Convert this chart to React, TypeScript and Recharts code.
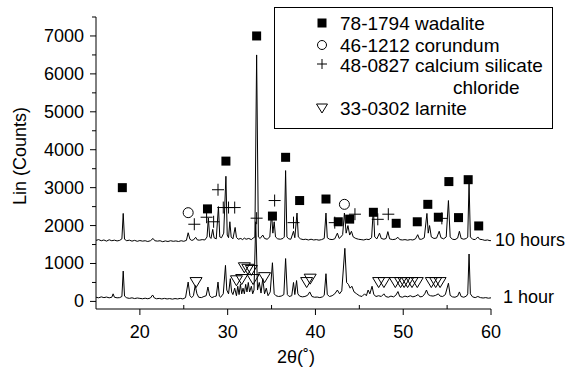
import { ComposedChart, Line, Scatter, XAxis, YAxis } from 'recharts';

// XRD traces, [2θ, counts]
const hours10: [number, number][] = [
  [15.0, 1610], [15.3, 1630], [15.6, 1600], [15.9, 1620], [16.2, 1590], [16.5, 1625], [16.8, 1600],
  [17.1, 1615], [17.4, 1595], [17.7, 1610], [17.95, 1650], [18.1, 2320], [18.25, 1640], [18.5, 1600],
  [18.8, 1615], [19.1, 1590], [19.4, 1610], [19.7, 1585], [20.0, 1605], [20.3, 1590], [20.6, 1600],
  [20.9, 1580], [21.2, 1600], [21.5, 1660], [21.7, 1600], [22.0, 1590], [22.3, 1600], [22.6, 1575],
  [22.9, 1595], [23.2, 1580], [23.5, 1600], [23.8, 1585], [24.1, 1595], [24.4, 1580], [24.7, 1600],
  [25.0, 1585], [25.3, 1610], [25.5, 1810], [25.7, 1640], [25.9, 1610], [26.1, 1620], [26.35, 1690],
  [26.55, 1620], [26.8, 1615], [27.1, 1630], [27.4, 1620], [27.65, 1700], [27.8, 2200], [27.95, 1700],
  [28.1, 1660], [28.3, 1900], [28.45, 1680], [28.7, 1650], [28.95, 2500], [29.1, 1700], [29.3, 1680],
  [29.55, 1800], [29.8, 3300], [29.95, 1750], [30.1, 1680], [30.25, 2100], [30.4, 1700], [30.6, 1650],
  [30.85, 1950], [31.0, 1690], [31.2, 1640], [31.5, 1660], [31.7, 1630], [31.9, 1670], [32.1, 1640],
  [32.4, 1660], [32.7, 1630], [32.9, 1670], [33.1, 1700], [33.3, 6500], [33.5, 1700], [33.7, 1660],
  [34.0, 1750], [34.2, 1660], [34.5, 1640], [34.8, 1700], [35.0, 2330], [35.15, 1800], [35.3, 2100],
  [35.45, 1700], [35.7, 1650], [36.0, 1640], [36.3, 1660], [36.45, 1700], [36.6, 3450], [36.75, 1700],
  [36.95, 1650], [37.2, 1640], [37.5, 1850], [37.65, 1680], [37.9, 2330], [38.05, 1700], [38.3, 1650],
  [38.6, 1630], [38.9, 1640], [39.2, 1620], [39.5, 1640], [39.8, 1620], [40.1, 1630], [40.4, 1615],
  [40.7, 1630], [41.0, 1660], [41.2, 2330], [41.35, 1680], [41.6, 1640], [41.9, 1630], [42.2, 1650],
  [42.5, 1800], [42.7, 1660], [42.9, 1700], [43.1, 1760], [43.3, 2330], [43.5, 1800], [43.7, 2000],
  [43.9, 1750], [44.1, 1850], [44.3, 1700], [44.6, 1660], [44.9, 1640], [45.2, 1630], [45.5, 1620],
  [45.8, 1640], [46.1, 1630], [46.4, 1680], [46.6, 2460], [46.75, 1700], [47.0, 1650], [47.3, 1800],
  [47.5, 1660], [47.8, 1640], [48.05, 1660], [48.25, 1840], [48.45, 1650], [48.8, 1630], [49.1, 1640],
  [49.4, 1690], [49.6, 1630], [49.9, 1620], [50.2, 1630], [50.5, 1615], [50.8, 1630], [51.1, 1620],
  [51.4, 1650], [51.65, 1760], [51.85, 1640], [52.1, 1640], [52.4, 1680], [52.7, 2320], [52.85, 1800],
  [53.0, 2000], [53.2, 1700], [53.5, 1660], [53.8, 1670], [54.1, 1850], [54.3, 1680], [54.6, 1650],
  [54.9, 1700], [55.15, 2660], [55.35, 1700], [55.6, 1640], [55.9, 1630], [56.2, 1670], [56.4, 1850],
  [56.6, 1660], [56.9, 1640], [57.2, 1660], [57.35, 1700], [57.5, 3130], [57.65, 1700], [57.9, 1640],
  [58.2, 1630], [58.5, 1700], [58.7, 1640], [59.0, 1630], [59.3, 1610], [59.6, 1620], [59.9, 1600],
  [60.0, 1610],
];

const hours1: [number, number][] = [
  [15.0, 110], [15.3, 95], [15.6, 120], [15.9, 100], [16.2, 115], [16.5, 95], [16.8, 110], [16.95, 200],
  [17.1, 110], [17.4, 95], [17.7, 100], [17.95, 130], [18.1, 800], [18.25, 140], [18.5, 95], [18.8, 80],
  [19.1, 95], [19.4, 75], [19.7, 90], [20.0, 80], [20.3, 70], [20.6, 85], [20.9, 70], [21.2, 90],
  [21.45, 170], [21.65, 90], [21.9, 70], [22.2, 80], [22.5, 65], [22.8, 80], [23.1, 65], [23.4, 75],
  [23.7, 60], [24.0, 75], [24.3, 65], [24.6, 80], [24.9, 65], [25.2, 100], [25.5, 510], [25.7, 150],
  [25.9, 100], [26.1, 150], [26.3, 420], [26.5, 200], [26.7, 110], [27.0, 100], [27.3, 130], [27.55, 150],
  [27.75, 380], [27.95, 150], [28.2, 100], [28.5, 130], [28.7, 140], [28.9, 510], [29.05, 140], [29.2, 110],
  [29.5, 200], [29.75, 950], [29.9, 300], [30.1, 200], [30.3, 600], [30.45, 250], [30.6, 180], [30.8, 350],
  [31.0, 150], [31.15, 400], [31.3, 180], [31.45, 450], [31.6, 200], [31.75, 350], [31.9, 200], [32.05, 450],
  [32.2, 250], [32.35, 500], [32.5, 250], [32.7, 400], [32.85, 200], [33.0, 300], [33.2, 2100], [33.4, 300],
  [33.6, 500], [33.8, 220], [34.0, 600], [34.2, 200], [34.4, 350], [34.6, 150], [34.85, 250], [35.1, 1020],
  [35.3, 200], [35.5, 150], [35.8, 130], [36.1, 140], [36.4, 180], [36.6, 1130], [36.8, 180], [37.0, 130],
  [37.3, 150], [37.5, 500], [37.65, 180], [37.85, 550], [38.0, 200], [38.2, 140], [38.5, 120], [38.8, 130],
  [39.1, 160], [39.35, 250], [39.6, 130], [39.9, 110], [40.2, 115], [40.5, 100], [40.8, 120], [41.0, 160],
  [41.2, 730], [41.35, 180], [41.6, 130], [41.9, 150], [42.2, 200], [42.5, 300], [42.75, 200], [43.0, 280],
  [43.35, 1400], [43.55, 500], [43.75, 450], [43.95, 350], [44.15, 400], [44.4, 250], [44.7, 200], [45.0, 150],
  [45.3, 130], [45.6, 200], [45.8, 150], [46.0, 300], [46.2, 200], [46.45, 400], [46.65, 180], [46.9, 130],
  [47.2, 150], [47.5, 130], [47.8, 200], [48.0, 130], [48.3, 110], [48.6, 140], [48.9, 120], [49.15, 160],
  [49.4, 260], [49.6, 130], [49.9, 110], [50.2, 140], [50.5, 120], [50.8, 150], [51.1, 120], [51.4, 140],
  [51.7, 180], [51.9, 120], [52.2, 130], [52.45, 200], [52.65, 300], [52.85, 180], [53.1, 150], [53.4, 140],
  [53.7, 160], [54.0, 200], [54.2, 140], [54.5, 130], [54.8, 180], [55.15, 480], [55.35, 160], [55.6, 120],
  [55.9, 110], [56.2, 140], [56.4, 250], [56.6, 130], [56.9, 110], [57.2, 140], [57.35, 200], [57.5, 1250],
  [57.65, 200], [57.9, 120], [58.2, 100], [58.5, 130], [58.8, 100], [59.1, 90], [59.4, 100], [59.7, 85],
  [60.0, 95],
];

// phase markers, [2θ, counts]
const wadalite: [number, number][] = [
  [18.0, 3000], [27.7, 2440], [29.8, 3700], [33.3, 7000], [35.1, 2250], [36.6, 3800], [38.2, 2660],
  [41.2, 2700], [42.6, 2100], [43.9, 2170], [46.6, 2350], [49.2, 2060], [51.6, 2100], [52.8, 2560],
  [54.0, 2220], [55.2, 3160], [56.3, 2210], [57.4, 3210], [58.6, 1990],
];
const corundum: [number, number][] = [[25.5, 2340], [43.3, 2560]];
const calciumSilicate: [number, number][] = [
  [26.2, 2035], [27.6, 2220], [28.4, 2100], [28.9, 2945], [29.5, 2475], [30.1, 2475], [30.8, 2475],
  [33.3, 2195], [35.35, 2660], [37.5, 2077], [42.2, 2077], [44.5, 2300], [47.1, 2165], [48.3, 2300],
  [54.4, 2190],
];
const larnite: [number, number][] = [
  [26.4, 510], [31.0, 557], [31.6, 590], [31.9, 900], [32.3, 860], [32.7, 830], [32.9, 590], [34.2, 640],
  [39.0, 510], [39.4, 600], [47.2, 510], [47.8, 510], [49.1, 510], [49.7, 510], [50.1, 510], [50.5, 510],
  [51.0, 510], [51.6, 510], [53.2, 510], [53.7, 510], [54.2, 510],
];

const xTicks = [20, 25, 30, 35, 40, 45, 50, 55, 60];
const yTicks = [0, 500, 1000, 1500, 2000, 2500, 3000, 3500, 4000, 4500, 5000, 5500, 6000, 6500, 7000, 7500];

const toPoints = (rows: [number, number][]) => rows.map(([x, y]) => ({ x, y }));

const FONT = 'Liberation Sans, Arial, Helvetica, sans-serif';

const XTick = ({ x, y, payload }: any) => {
  const major = payload.value % 10 === 0;
  return (
    <g>
      <line x1={x} x2={x} y1={y} y2={major ? y + 6 : y - 4} stroke="#000" />
      {major && (
        <text x={x} y={y + 23} textAnchor="middle" dominantBaseline="central" fontSize={18} fill="#000">
          {payload.value}
        </text>
      )}
    </g>
  );
};

const YTick = ({ x, y, payload }: any) => {
  const major = payload.value % 1000 === 0;
  return (
    <g>
      <line x1={x} x2={major ? x - 6 : x - 4} y1={y} y2={y} stroke="#000" />
      {major && (
        <text x={x - 12} y={y} textAnchor="end" dominantBaseline="central" fontSize={18} fill="#000">
          {payload.value}
        </text>
      )}
    </g>
  );
};

const Square = ({ cx, cy }: any) => <rect x={cx - 4.5} y={cy - 4.5} width={9} height={9} fill="#000" />;
const Circle = ({ cx, cy }: any) => <circle cx={cx} cy={cy} r={5} fill="none" stroke="#000" />;
const Plus = ({ cx, cy }: any) => (
  <path d={`M${cx - 6},${cy}H${cx + 6}M${cx},${cy - 6}V${cy + 6}`} stroke="#000" fill="none" />
);
const Triangle = ({ cx, cy }: any) => (
  <path d={`M${cx - 6},${cy - 4.5}L${cx + 6},${cy - 4.5}L${cx},${cy + 5.5}Z`} stroke="#000" fill="none" />
);

export default function App() {
  return (
    <div style={{ position: 'absolute', left: 0, top: 0, width: 581, height: 370, background: '#fff', fontFamily: FONT }}>
      <ComposedChart width={581} height={370} margin={{ top: 17, right: 90, bottom: 0, left: 10 }}>
        <XAxis
          dataKey="x"
          type="number"
          domain={[15, 60]}
          ticks={xTicks}
          interval={0}
          height={61}
          tickSize={0}
          tickMargin={0}
          tickLine={false}
          tick={<XTick />}
          axisLine={{ stroke: '#000' }}
          allowDataOverflow
        />
        <YAxis
          type="number"
          domain={[-200, 7500]}
          ticks={yTicks}
          interval={0}
          width={86}
          tickSize={0}
          tickMargin={0}
          tickLine={false}
          tick={<YTick />}
          axisLine={{ stroke: '#000' }}
          allowDataOverflow
        />
        <Line data={toPoints(hours10)} dataKey="y" stroke="#000" strokeWidth={1} dot={false} isAnimationActive={false} />
        <Line data={toPoints(hours1)} dataKey="y" stroke="#000" strokeWidth={1} dot={false} isAnimationActive={false} />
        <Scatter data={toPoints(wadalite)} dataKey="y" shape={<Square />} isAnimationActive={false} />
        <Scatter data={toPoints(corundum)} dataKey="y" shape={<Circle />} isAnimationActive={false} />
        <Scatter data={toPoints(calciumSilicate)} dataKey="y" shape={<Plus />} isAnimationActive={false} />
        <Scatter data={toPoints(larnite)} dataKey="y" shape={<Triangle />} isAnimationActive={false} />
      </ComposedChart>

      <svg width={581} height={370} style={{ position: 'absolute', left: 0, top: 0, pointerEvents: 'none' }}>
        <g fontFamily={FONT} fill="#000">
          <text x={495} y={240} fontSize={18} dominantBaseline="central">10 hours</text>
          <text x={503} y={297} fontSize={18} dominantBaseline="central">1 hour</text>
          <text x={296} y={357} fontSize={18} textAnchor="middle" dominantBaseline="central">2θ(˚)</text>
          <text x={20} y={156} fontSize={18} textAnchor="middle" dominantBaseline="central" transform="rotate(-90 20 156)">
            Lin (Counts)
          </text>
        </g>
        <rect x={274.5} y={7.5} width={278} height={121} fill="#fff" stroke="#000" />
        <rect x={317.5} y={18.5} width={9} height={9} fill="#000" />
        <circle cx={322} cy={45} r={4.5} fill="none" stroke="#000" />
        <path d="M317,64H327M322,59V69" stroke="#000" fill="none" />
        <path d="M316.5,104L327.5,104L322,113Z" stroke="#000" fill="none" />
        <g fontFamily={FONT} fontSize={19} fill="#000" dominantBaseline="central">
          <text x={340} y={23}>78-1794 wadalite</text>
          <text x={340} y={45}>46-1212 corundum</text>
          <text x={340} y={65}>48-0827 calcium silicate</text>
          <text x={453} y={87}>chloride</text>
          <text x={340} y={108}>33-0302 larnite</text>
        </g>
      </svg>
    </div>
  );
}
